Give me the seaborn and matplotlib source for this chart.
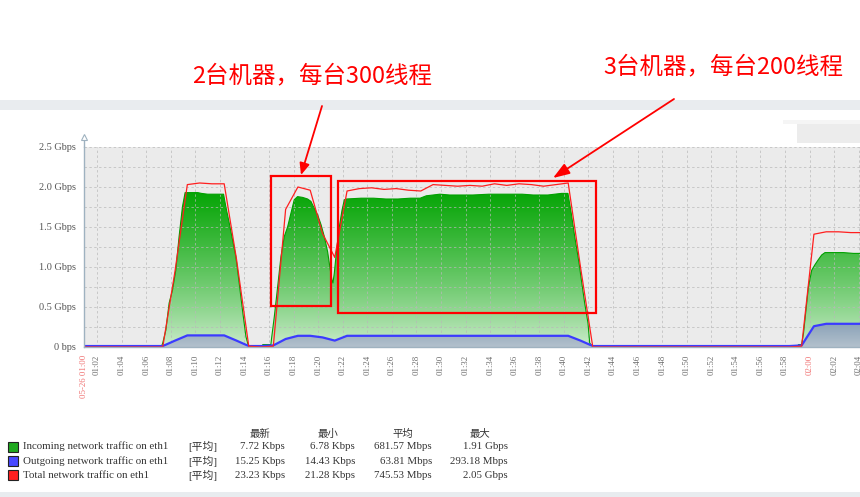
import numpy as np
import pandas as pd
import matplotlib
matplotlib.use("Agg")
import matplotlib.pyplot as plt
import seaborn as sns
from matplotlib.patches import Rectangle, PathPatch, FancyArrowPatch, ArrowStyle
from matplotlib.path import Path

# ---------------- data (minutes after 01:00, values in Gbps) ----------------
sample_min = np.arange(0.35, 64.36, 1.0)          # 1-minute samples of total / outgoing
total_gbps = [0, 0, 0, 0, 0, 0, 0, 0, 0.95, 2.03, 2.05, 2.04, 2.04, 1.10, 0.01,
              0, 0.01, 1.72, 2.00, 1.96, 1.42, 1.12, 1.95, 1.98, 1.99, 1.97,
              1.98, 1.96, 1.95, 2.03, 2.02, 2.01, 2.02, 2.01, 2.04, 2.02, 2.04,
              2.03, 2.01, 2.03, 2.05, 1.00, 0,
              0, 0, 0, 0, 0, 0, 0, 0, 0, 0, 0, 0, 0, 0, 0, 0,
              0.01, 1.41, 1.44, 1.44, 1.43, 1.43]
out_gbps = [0.012, 0.012, 0.012, 0.012, 0.012, 0.012, 0.012, 0.012, 0.08, 0.145, 0.145,
            0.145, 0.145, 0.08, 0.012, 0.012, 0.02, 0.10, 0.14, 0.14, 0.12, 0.08,
            0.14, 0.14, 0.14, 0.14, 0.14, 0.14, 0.14, 0.14, 0.14, 0.14, 0.14, 0.14,
            0.14, 0.14, 0.14, 0.14, 0.14, 0.14, 0.14, 0.08, 0.012,
            0.012, 0.012, 0.012, 0.012, 0.012, 0.012, 0.012, 0.012, 0.012, 0.012,
            0.012, 0.012, 0.012, 0.012, 0.012, 0.012,
            0.02, 0.26, 0.29, 0.29, 0.29, 0.29]

in_min = [0.9, 7.25, 7.35, 7.6, 7.87, 8.14, 8.41, 8.68, 8.95, 9.17, 9.6, 10.2, 10.5,
          11.0, 11.7, 12.3, 12.49, 12.76, 13.03, 13.3, 13.57, 13.84, 14.12, 14.33,
          15.4, 15.5, 16.15, 16.2, 16.43, 16.7, 16.97, 17.24, 17.51, 17.78, 18.05,
          18.32, 18.73, 19.14, 19.41, 19.69, 19.96, 20.23, 20.5, 20.77, 20.96, 21.12,
          21.2, 21.31, 21.5, 21.72, 21.94, 22.13, 22.3, 23.5, 24.5, 25.5, 26.5, 27.5,
          28.3, 28.8, 29.9, 30.7, 32.6, 33.9, 36.6, 37.5, 38.7, 39.8, 40.33, 40.6,
          40.88, 41.15, 41.28, 41.42, 41.69, 41.96, 42.1, 42.3, 59.0, 59.1, 59.35,
          59.5, 59.7, 59.9, 60.17, 60.44, 60.7, 60.98, 61.25, 61.93, 62.75, 63.56, 64.3]
in_gbps = [0.008, 0.008, 0.05, 0.21, 0.55, 0.71, 0.96, 1.38, 1.75, 1.93, 1.93, 1.93, 1.92,
           1.91, 1.91, 1.91, 1.75, 1.55, 1.34, 1.13, 0.80, 0.46, 0.13, 0.008,
           0.008, 0.03, 0.03, 0.10, 0.38, 0.75, 1.13, 1.38, 1.50, 1.67, 1.84,
           1.88, 1.87, 1.85, 1.82, 1.73, 1.65, 1.53, 1.38, 1.19, 0.99, 0.84,
           0.80, 0.92, 1.21, 1.50, 1.71, 1.84, 1.85, 1.86, 1.86, 1.85, 1.85, 1.86,
           1.86, 1.89, 1.91, 1.90, 1.90, 1.91, 1.91, 1.90, 1.90, 1.92, 1.92, 1.67,
           1.38, 1.13, 1.00, 0.84, 0.55, 0.30, 0.05, 0.008, 0.008, 0.03, 0.03,
           0.17, 0.46, 0.75, 0.96, 1.03, 1.09, 1.15, 1.18, 1.18, 1.18, 1.17, 1.17]

xtick_pos = [0.94, 2, 4, 6, 8, 10, 12, 14, 16, 18, 20, 22, 24, 26, 28, 30, 32, 34,
             36, 38, 40, 42, 44, 46, 48, 50, 52, 54, 56, 58, 60, 62, 64]
xtick_labels = ["05-26 01:00", "01:02", "01:04", "01:06", "01:08", "01:10", "01:12",
                "01:14", "01:16", "01:18", "01:20", "01:22", "01:24", "01:26", "01:28",
                "01:30", "01:32", "01:34", "01:36", "01:38", "01:40", "01:42", "01:44",
                "01:46", "01:48", "01:50", "01:52", "01:54", "01:56", "01:58", "02:00",
                "02:02", "02:04"]
ytick_pos = [0, 0.5, 1.0, 1.5, 2.0, 2.5]
ytick_labels = ["0 bps", "0.5 Gbps", "1.0 Gbps", "1.5 Gbps", "2.0 Gbps", "2.5 Gbps"]

legend_names = ["Incoming network traffic on eth1", "Outgoing network traffic on eth1",
                "Total network traffic on eth1"]
legend_cols = ["最新", "最小", "平均", "最大"]
legend_last = ["7.72 Kbps", "15.25 Kbps", "23.23 Kbps"]
legend_min = ["6.78 Kbps", "14.43 Kbps", "21.28 Kbps"]
legend_avg = ["681.57 Mbps", "63.81 Mbps", "745.53 Mbps"]
legend_max = ["1.91 Gbps", "293.18 Mbps", "2.05 Gbps"]
note_left = "2台机器，每台300线程"
note_right = "3台机器，每台200线程"

# ---------------- style ----------------
sns.set_style("white")
plt.rcParams['font.family'] = ['Liberation Serif', 'Noto Sans CJK SC', 'DejaVu Sans']

W, H = 860, 497
fig = plt.figure(figsize=(W / 100, H / 100), dpi=100)
fig.patch.set_facecolor("white")


def P(x, y):
    return (x / W, 1 - y / H)


ax = fig.add_axes([84 / W, 1 - 347 / H, (W - 84) / W, 200 / H])
ax.set_facecolor("#ebebeb")
XMIN, XMAX = 0.94, 64.1
ax.set_xlim(XMIN, XMAX)
ax.set_ylim(0, 2.5)

# incoming: gradient filled area
tin = np.array(in_min)
vin = np.array(in_gbps)
verts = np.vstack([[[tin[0], 0]], np.column_stack([tin, vin]),
                   [[tin[-1], 0], [tin[0], 0]]])
green_patch = PathPatch(Path(verts, closed=True), facecolor='none', edgecolor='none',
                        transform=ax.transData)
ax.add_patch(green_patch)
ny = 256
frac = np.linspace(0, 1, ny)[:, None]          # 0 bottom -> 1 top
top_c = np.array([0, 163, 0]) / 255
bot_c = np.array([210, 238, 210]) / 255
f = np.clip(frac * 2.5 / 2.0, 0, 1) ** 0.8
grad = bot_c[None, None, :] * (1 - f[:, :, None]) + top_c[None, None, :] * f[:, :, None]
grad = np.repeat(grad, 2, axis=1)
im = ax.imshow(grad, extent=[XMIN, XMAX, 0, 2.5], origin='lower', aspect='auto',
               zorder=2, interpolation='bilinear')
im.set_clip_path(green_patch)
ax.plot(tin, vin, color="#00a000", lw=0.8, zorder=3)

# outgoing: gradient filled area
tout = np.array(sample_min)
vout = np.array(out_gbps)
verts_o = np.vstack([[[tout[0], 0]], np.column_stack([tout, vout]),
                     [[tout[-1], 0], [tout[0], 0]]])
blue_patch = PathPatch(Path(verts_o, closed=True), facecolor='none', edgecolor='none',
                       transform=ax.transData)
ax.add_patch(blue_patch)
f2 = np.clip(frac * 2.5 / 0.3, 0, 1)
btop = np.array([138, 162, 184]) / 255
bbot = np.array([178, 192, 204]) / 255
grad2 = bbot[None, None, :] * (1 - f2[:, :, None]) + btop[None, None, :] * f2[:, :, None]
grad2 = np.repeat(grad2, 2, axis=1)
im2 = ax.imshow(grad2, extent=[XMIN, XMAX, 0, 2.5], origin='lower', aspect='auto',
                zorder=3.5, interpolation='bilinear')
im2.set_clip_path(blue_patch)

df = pd.DataFrame({"minute": sample_min, "total": total_gbps, "out": out_gbps})
sns.lineplot(data=df, x="minute", y="total", ax=ax, color="#ff1f1f", lw=0.9,
             estimator=None, zorder=5)
sns.lineplot(data=df, x="minute", y="out", ax=ax, color="#3b3bff", lw=1.6,
             estimator=None, zorder=4.5)
ax.set_xlim(XMIN, XMAX)
ax.set_ylim(0, 2.5)
ax.set_xlabel("")
ax.set_ylabel("")

# ticks and grid
ax.set_xticks(xtick_pos)
ax.set_xticklabels(xtick_labels, rotation=90, fontsize=6.3, color="#6a6a6a")
for lab in ax.get_xticklabels():
    if lab.get_text() in ("05-26 01:00", "02:00"):
        lab.set_color("#f07070")
ax.set_yticks(ytick_pos)
ax.set_yticklabels(ytick_labels, fontsize=7.4, color="#555555")
ax.set_yticks([0.25, 0.75, 1.25, 1.75, 2.25], minor=True)
ax.tick_params(axis='x', length=0, pad=5.5)
ax.tick_params(axis='y', which='major', length=3, width=0.8, color="#9fb2c0", pad=2.5)
ax.tick_params(axis='y', which='minor', length=0)
ax.grid(True, which='both', axis='both', color="#b8b8b8", lw=0.7,
        linestyle=(0, (2.5, 2.5)), alpha=0.7, zorder=6)
ax.set_axisbelow(False)
for s in ("top", "right"):
    ax.spines[s].set_visible(False)
for s in ("left", "bottom"):
    ax.spines[s].set_color("#9fb2c0")
    ax.spines[s].set_linewidth(1.0)
    ax.spines[s].set_zorder(7)
ytr = ax.get_yaxis_transform()
ax.plot([0, 0], [2.5, 2.6], color="#9fb2c0", lw=1.0, transform=ytr, clip_on=False)
ax.plot([0], [2.63], marker='^', ms=5, mfc='white', mec="#9fb2c0", mew=0.8,
        transform=ytr, clip_on=False)

# ---------------- page decorations ----------------
fig.add_artist(Rectangle(P(0, 110), 1, 10 / H, transform=fig.transFigure,
                         color="#e9ecef", lw=0, zorder=0))
fig.add_artist(Rectangle(P(0, 497), 1, 5 / H, transform=fig.transFigure,
                         color="#e8ecef", lw=0, zorder=0))
fig.add_artist(Rectangle(P(783, 124), 77 / W, 4 / H, transform=fig.transFigure,
                         color="#f5f5f5", lw=0, zorder=0))
fig.add_artist(Rectangle(P(797, 143), 63 / W, 19 / H, transform=fig.transFigure,
                         color="#ececec", lw=0, zorder=0))

# annotation boxes and arrows
for (x0, y0, x1, y1) in [(271, 176, 331, 306), (338, 181, 596, 313)]:
    fig.add_artist(Rectangle(P(x0, y1), (x1 - x0) / W, (y1 - y0) / H,
                             transform=fig.transFigure, fill=False, ec="#ff0000",
                             lw=1.6, zorder=20))
fig.add_artist(FancyArrowPatch(P(322, 106), P(301, 175), transform=fig.transFigure,
                               arrowstyle=ArrowStyle("-|>", head_length=7, head_width=3),
                               color="#ff0000", lw=1.3, shrinkA=0, shrinkB=0, zorder=20))
fig.add_artist(FancyArrowPatch(P(674, 99), P(553, 178), transform=fig.transFigure,
                               arrowstyle=ArrowStyle("-|>", head_length=10, head_width=3.5),
                               color="#ff0000", lw=1.3, shrinkA=0, shrinkB=0, zorder=20))
cjk = ['Noto Sans CJK SC', 'DejaVu Sans']
fig.text(*P(312, 76), note_left, color="#ff0000", fontsize=16.9, ha='center',
         va='center', family=cjk)
fig.text(*P(723, 67), note_right, color="#ff0000", fontsize=16.9, ha='center',
         va='center', family=cjk)

# ---------------- legend table ----------------
txt_c = "#333333"
fs = 7.8
for cx, name in zip([260, 328, 403, 480], legend_cols):
    fig.text(*P(cx, 434), name, ha='center', va='center', fontsize=7.5, color=txt_c,
             family=cjk)
sq_colors = ["#1fa81f", "#4848ff", "#ff2020"]
rows_y = [446.5, 461, 475]
for i, y in enumerate(rows_y):
    fig.add_artist(Rectangle(P(8, y + 5), 10 / W, 10 / H, transform=fig.transFigure,
                             facecolor=sq_colors[i], edgecolor="#222222", lw=0.8))
    fig.text(*P(23, y), legend_names[i], ha='left', va='center', fontsize=fs, color=txt_c)
    fig.text(*P(188, y), "[平均]", ha='left', va='center', fontsize=fs, color=txt_c,
             family=['Liberation Serif', 'Noto Sans CJK SC'])
    for xr, col in zip([285, 355, 432, 508], [legend_last, legend_min, legend_avg, legend_max]):
        fig.text(*P(xr, y), col[i], ha='right', va='center', fontsize=fs, color=txt_c)

fig.savefig("out.png", dpi=100)
